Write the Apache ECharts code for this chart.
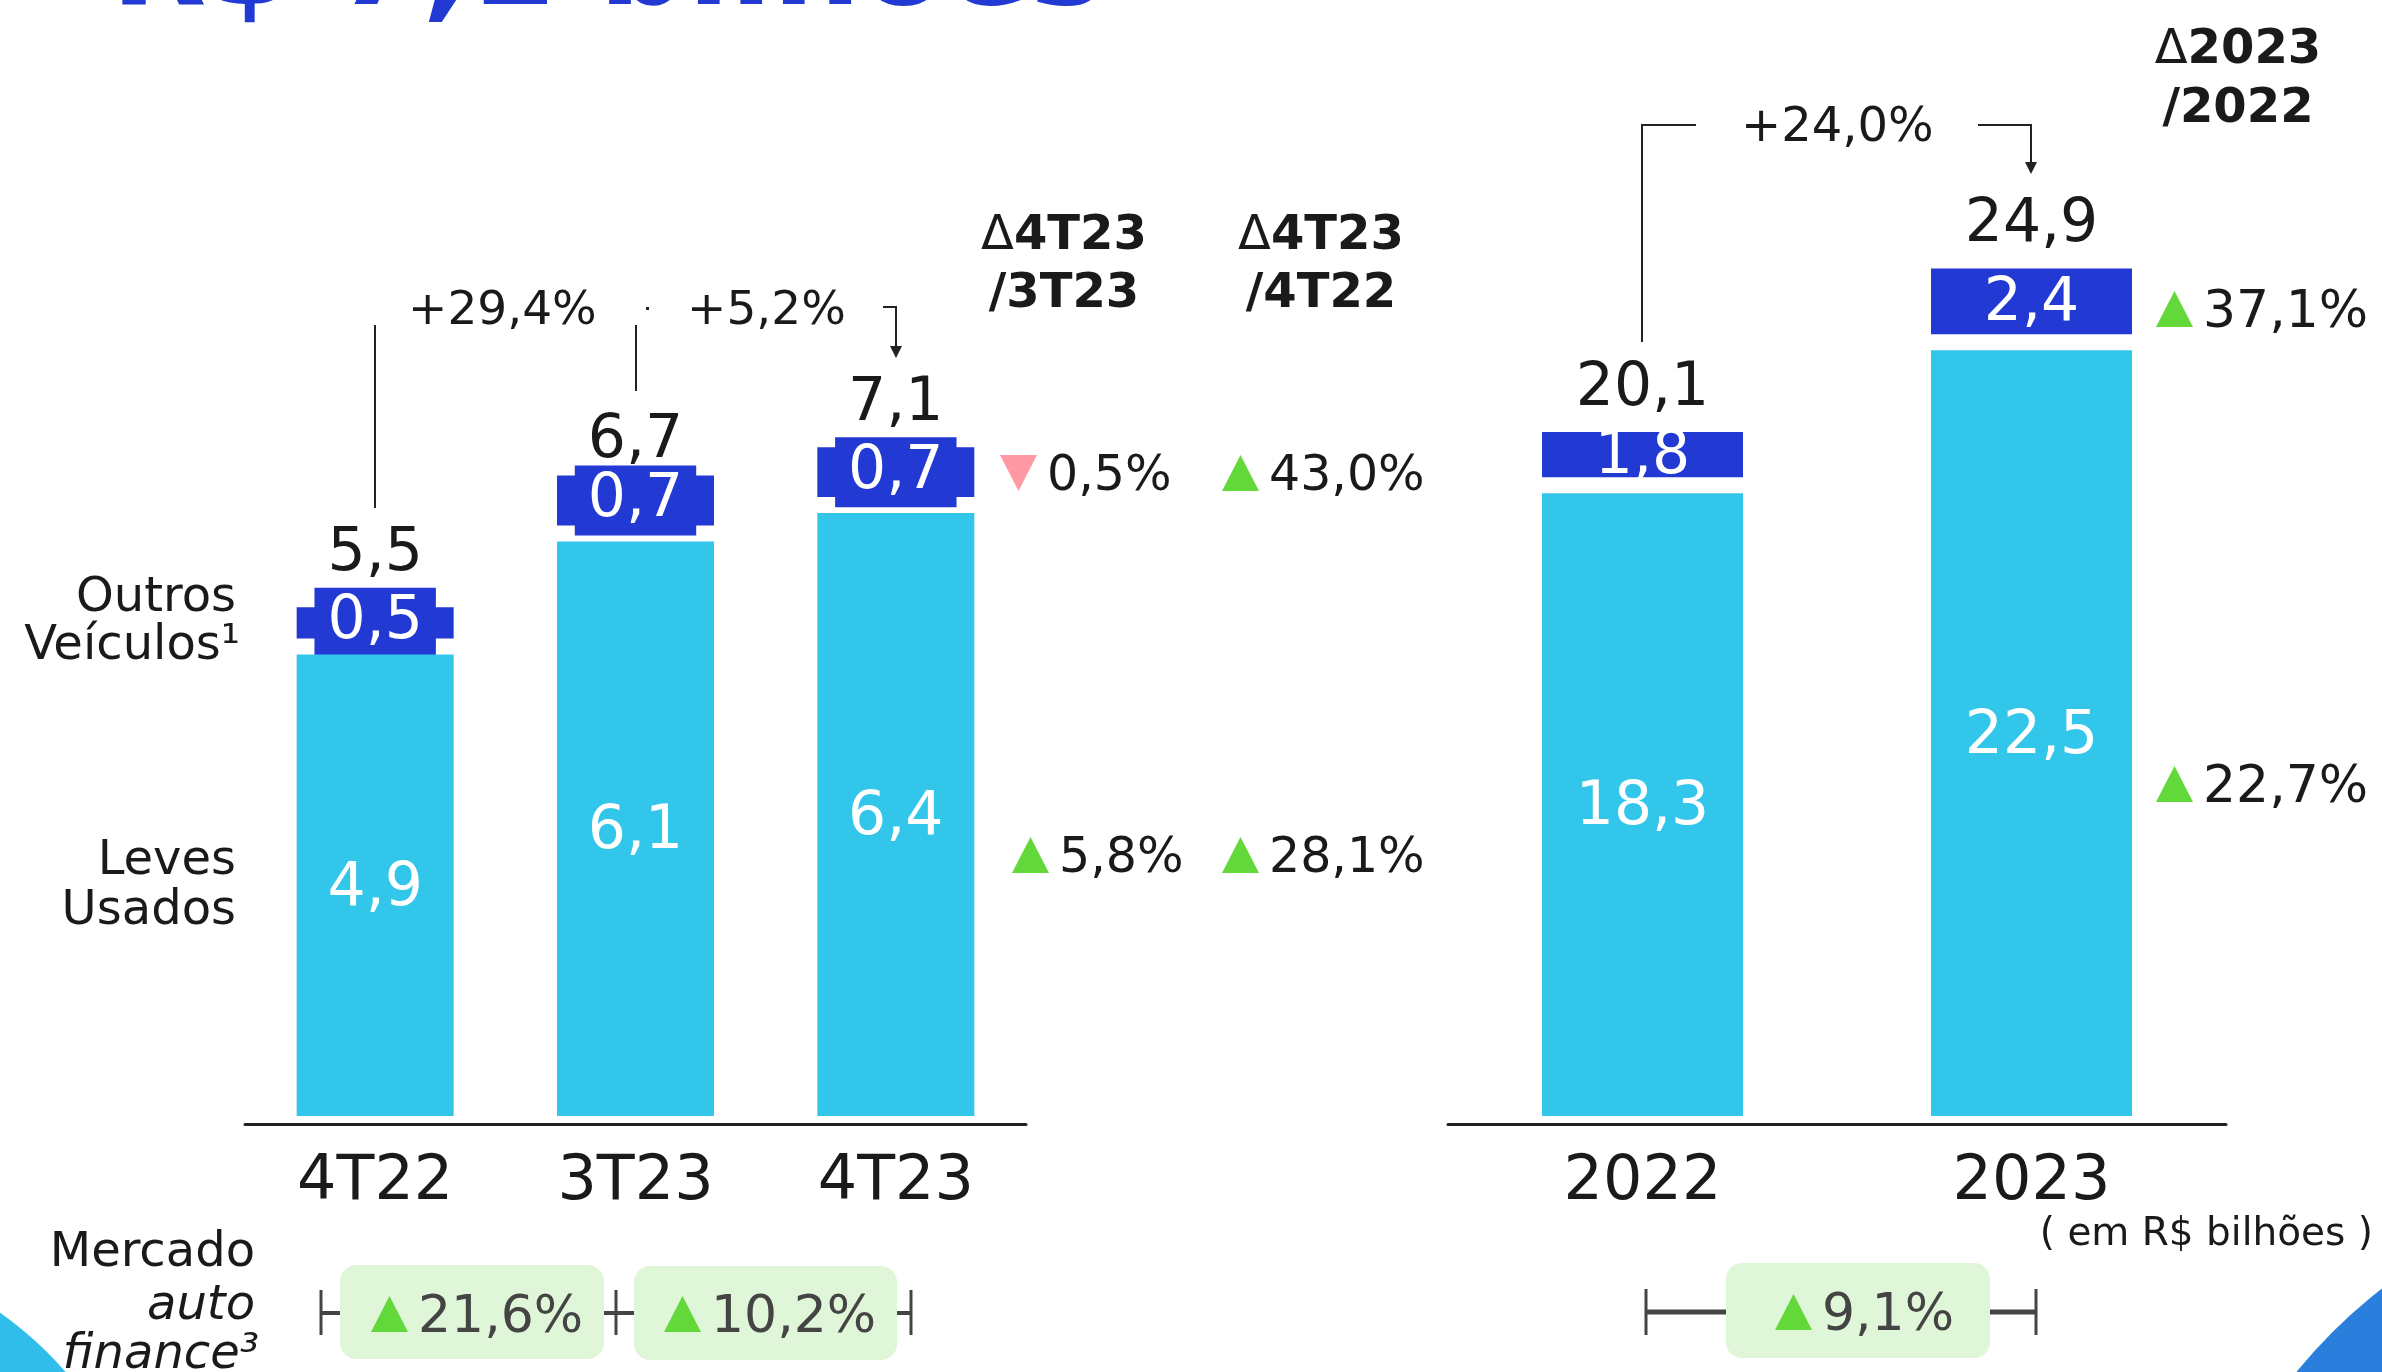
<!DOCTYPE html>
<html>
<head>
<meta charset="utf-8">
<script src="https://cdn.jsdelivr.net/npm/echarts@6/dist/echarts.min.js"></script>
<style>
  html, body { margin: 0; padding: 0; background: #fff; }
  #chart { width: 2382px; height: 1372px; }
</style>
</head>
<body>
<div id="chart"></div>
<script>
// dados trimestrais (R$ bilhões)
const quarters = ['4T22', '3T23', '4T23'];
const quarterLeves = [4.9, 6.1, 6.4];
const quarterOutros = [0.5, 0.7, 0.7];
const quarterTotal = [5.5, 6.7, 7.1];

// dados anuais
const years = ['2022', '2023'];
const yearLeves = [18.3, 22.5];
const yearOutros = [1.8, 2.4];
const yearTotal = [20.1, 24.9];

// variações [outros, leves]
const var4T23vs3T23 = [-0.5, 5.8];
const var4T23vs4T22 = [43.0, 28.1];
const var2023vs2022 = [37.1, 22.7];

// crescimento do total
const growthQuarters = [29.4, 5.2];
const growthYears = [24.0];

// mercado auto finance
const mercadoQuarters = [21.6, 10.2];
const mercadoYears = [9.1];

const FONT = '"DejaVu Sans", sans-serif';
const LIGHT = '#32C6EB';
const DARK = '#2339D3';
const GREEN = '#63D83A';
const PINK = '#FF9AA4';
const INK = '#1a1a1a';
const GAP = 16;
const DY = 4; // o "middle" do DejaVu fica um pouco acima do centro dos algarismos

const fmt = v => Math.abs(v).toFixed(1).replace('.', ',');

function darkItem(barW, boxed) {
  return function (params, api) {
    const i = api.value(0);
    const top = api.coord([i, api.value(1) + api.value(2)]);
    const base = api.coord([i, api.value(1)]);
    const tot = api.coord([i, api.value(3)]);
    const h = base[1] - GAP - top[1];
    return {
      type: 'group',
      children: [
        { type: 'rect', shape: { x: top[0] - barW / 2, y: top[1], width: barW, height: h }, style: { fill: DARK } },
        {
          type: 'text', x: top[0], y: top[1] + h / 2 + (boxed ? 0 : 3),
          style: {
            text: fmt(api.value(2)), fill: '#fff', font: '60px ' + FONT,
            align: 'center', verticalAlign: 'middle', lineHeight: 60,
            backgroundColor: boxed ? DARK : 'transparent', padding: boxed ? [5, 13] : 0
          }
        },
        {
          type: 'text', x: tot[0], y: tot[1] - 43,
          style: { text: fmt(api.value(3)), fill: INK, font: '60px ' + FONT, align: 'center', verticalAlign: 'middle' }
        }
      ]
    };
  };
}

// anotações
const graphic = [];
function text(x, y, t, size, o = {}) {
  const font = [o.italic ? 'italic' : '', o.bold ? 'bold' : '', size + 'px', FONT].join(' ');
  graphic.push({
    type: 'text', x: x, y: y + DY, silent: true, z: 10,
    style: Object.assign({ text: t, fill: o.fill || INK, font: font, align: o.align || 'left', verticalAlign: 'middle' }, o.extra || {})
  });
}
function tri(x, yc, up, color) {
  const w = 37, h = 36;
  const pts = up
    ? [[x, yc + h / 2], [x + w, yc + h / 2], [x + w / 2, yc - h / 2]]
    : [[x, yc - h / 2], [x + w, yc - h / 2], [x + w / 2, yc + h / 2]];
  graphic.push({ type: 'polygon', silent: true, z: 10, shape: { points: pts }, style: { fill: color } });
}
function delta(x, yc, v, size, fill) {
  tri(x, yc, v >= 0, v >= 0 ? GREEN : PINK);
  text(x + 47, yc, fmt(v) + '%', size, { fill: fill || INK });
}
function line(points, color, width) {
  graphic.push({ type: 'polyline', silent: true, z: 10, shape: { points: points }, style: { stroke: color || '#222', lineWidth: width || 2, fill: null } });
}
function arrowHead(x, y) {
  graphic.push({ type: 'polygon', silent: true, z: 10, shape: { points: [[x - 6, y - 12], [x + 6, y - 12], [x, y]] }, style: { fill: '#222' } });
}
function box(x1, x2, y1, y2) {
  graphic.push({ type: 'rect', silent: true, z: 9, shape: { x: x1, y: y1, width: x2 - x1, height: y2 - y1, r: 16 }, style: { fill: '#DFF6D8' } });
}

// cantos decorativos
graphic.push({ type: 'circle', silent: true, z: 1, shape: { cx: -200, cy: 1600, r: 350 }, style: { fill: '#31BDE9' } });
graphic.push({ type: 'circle', silent: true, z: 1, shape: { cx: 2700, cy: 1700, r: 520 }, style: { fill: '#2B7FDC' } });

// título (cortado no topo)
text(111, -32, 'R$ 7,1 bilhões', 124, { bold: true, fill: DARK });

// cabeçalhos
const headRich = { d: { fontWeight: 'normal', fontSize: 48, fontFamily: FONT } };
text(1064, 233, '{d|Δ}4T23', 48, { bold: true, align: 'center', extra: { rich: headRich } });
text(1064, 291, '/3T23', 48, { bold: true, align: 'center' });
text(1321, 233, '{d|Δ}4T23', 48, { bold: true, align: 'center', extra: { rich: headRich } });
text(1321, 291, '/4T22', 48, { bold: true, align: 'center' });
text(2238, 47, '{d|Δ}2023', 48, { bold: true, align: 'center', extra: { rich: headRich } });
text(2238, 106, '/2022', 48, { bold: true, align: 'center' });

// rótulos à esquerda
text(236, 595, 'Outros', 48, { align: 'right' });
text(240, 643, 'Veículos¹', 48, { align: 'right' });
text(236, 858, 'Leves', 48, { align: 'right' });
text(236, 908, 'Usados', 48, { align: 'right' });
text(255, 1250, 'Mercado', 48, { align: 'right' });
text(255, 1303, 'auto', 48, { align: 'right', italic: true });
text(259, 1352, 'finance³', 48, { align: 'right', italic: true });
text(2373, 1231, '( em R$ bilhões )', 39, { align: 'right' });

// variações
delta(1000, 473, var4T23vs3T23[0], 49);
delta(1012, 855, var4T23vs3T23[1], 49);
delta(1222, 473, var4T23vs4T22[0], 49);
delta(1222, 855, var4T23vs4T22[1], 49);
delta(2156, 309, var2023vs2022[0], 52);
delta(2156, 784, var2023vs2022[1], 52);

// crescimento do total
line([[375, 508], [375, 325]]);
line([[636, 391], [636, 325]]);
graphic.push({ type: 'rect', silent: true, z: 10, shape: { x: 646, y: 307, width: 3, height: 3 }, style: { fill: '#222' } });
text(408, 308, '+' + fmt(growthQuarters[0]) + '%', 47);
text(687, 308, '+' + fmt(growthQuarters[1]) + '%', 47);
line([[883, 307], [896, 307], [896, 350]]);
arrowHead(896, 358);

line([[1642, 342], [1642, 125], [1696, 125]]);
text(1741, 125, '+' + fmt(growthYears[0]) + '%', 48);
line([[1978, 125], [2031, 125], [2031, 165]]);
arrowHead(2031, 174);

// mercado auto finance
const GRAY = '#444';
line([[321, 1290], [321, 1335]], GRAY, 3);
line([[321, 1313], [340, 1313]], GRAY, 4);
box(340, 604, 1265, 1359);
delta(371, 1314, mercadoQuarters[0], 52, GRAY);
line([[604, 1313], [634, 1313]], GRAY, 4);
line([[616, 1290], [616, 1335]], GRAY, 3);
box(634, 897, 1266, 1360);
delta(664, 1314, mercadoQuarters[1], 52, GRAY);
line([[897, 1313], [911, 1313]], GRAY, 4);
line([[911, 1290], [911, 1335]], GRAY, 3);

line([[1646, 1289], [1646, 1335]], GRAY, 3);
line([[1646, 1312], [1726, 1312]], GRAY, 5);
box(1726, 1990, 1263, 1358);
delta(1775, 1312, mercadoYears[0], 52, GRAY);
line([[1990, 1312], [2036, 1312]], GRAY, 5);
line([[2036, 1289], [2036, 1335]], GRAY, 3);

const axisCommon = {
  type: 'category', offset: 8,
  axisLine: { onZero: false, lineStyle: { color: '#222', width: 3 } },
  axisTick: { show: false },
  axisLabel: { fontSize: 62, color: INK, fontFamily: FONT, margin: 28 }
};
const lightLabel = { show: true, position: 'inside', offset: [0, 4], color: '#fff', fontSize: 60, fontFamily: FONT, formatter: p => fmt(p.value) };

const chart = echarts.init(document.getElementById('chart'));
chart.setOption({
  animation: false,
  backgroundColor: '#fff',
  grid: [
    { left: 245, top: 174, width: 781, height: 942 },
    { left: 1448, top: 95, width: 778, height: 1021 }
  ],
  xAxis: [
    Object.assign({ gridIndex: 0, data: quarters }, axisCommon),
    Object.assign({ gridIndex: 1, data: years }, axisCommon)
  ],
  yAxis: [
    { gridIndex: 0, type: 'value', min: 0, max: 10, show: false },
    { gridIndex: 1, type: 'value', min: 0, max: 30, show: false }
  ],
  graphic: graphic,
  series: [
    { name: 'Leves Usados', type: 'bar', xAxisIndex: 0, yAxisIndex: 0, data: quarterLeves, barWidth: 157, itemStyle: { color: LIGHT }, label: lightLabel },
    { name: 'Outros Veículos', type: 'custom', xAxisIndex: 0, yAxisIndex: 0, renderItem: darkItem(157, true),
      data: quarters.map((c, i) => [i, quarterLeves[i], quarterOutros[i], quarterTotal[i]]) },
    { name: 'Leves Usados', type: 'bar', xAxisIndex: 1, yAxisIndex: 1, data: yearLeves, barWidth: 201, itemStyle: { color: LIGHT }, label: lightLabel },
    { name: 'Outros Veículos', type: 'custom', xAxisIndex: 1, yAxisIndex: 1, renderItem: darkItem(201, false),
      data: years.map((c, i) => [i, yearLeves[i], yearOutros[i], yearTotal[i]]) }
  ]
});
</script>
</body>
</html>
